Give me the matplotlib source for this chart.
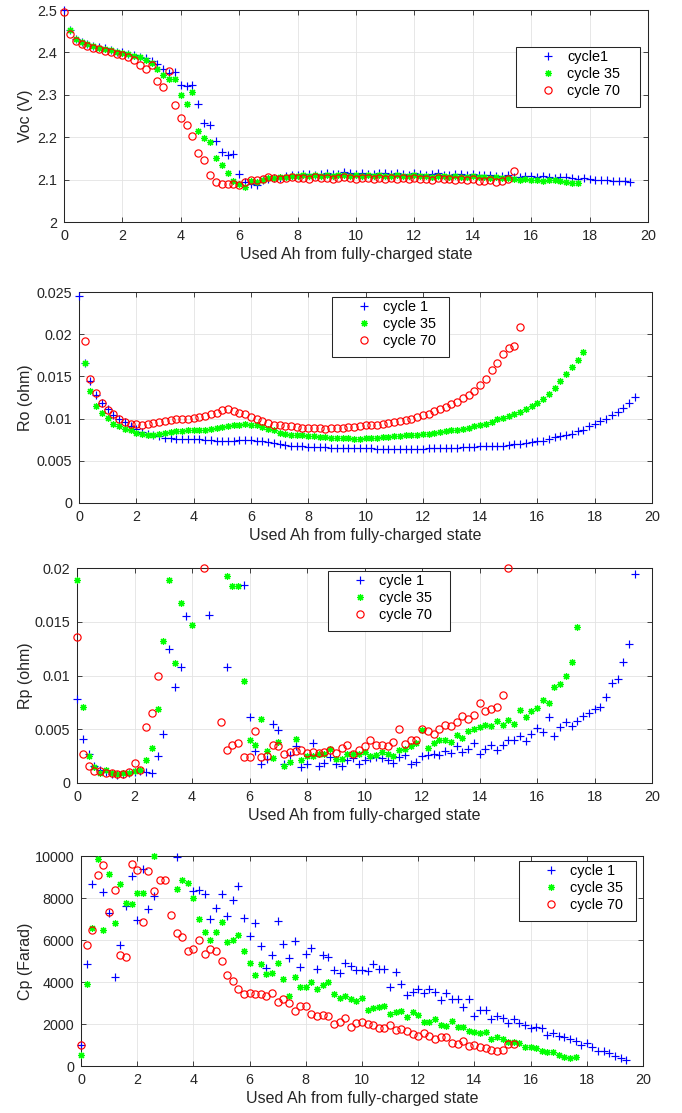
import numpy as np
import matplotlib
matplotlib.use('Agg')
import matplotlib.pyplot as plt
from matplotlib.patches import Rectangle

plt.rcParams['font.family'] = ['Liberation Sans', 'DejaVu Sans']

nan = np.nan
W, H = 682, 1113
DARK = (0.15, 0.15, 0.15)

# used Ah at each pulse, per cycle
x_c1 = [0.0, 0.2, 0.4, 0.6, 0.8, 1.0, 1.2, 1.4, 1.6, 1.8,
        2.0, 2.2, 2.4, 2.6, 2.8, 3.0, 3.2, 3.4, 3.6, 3.8,
        4.0, 4.2, 4.4, 4.6, 4.8, 5.0, 5.2, 5.4, 5.6, 5.8,
        6.0, 6.2, 6.4, 6.6, 6.8, 7.0, 7.2, 7.4, 7.6, 7.8,
        8.0, 8.2, 8.4, 8.6, 8.8, 9.0, 9.2, 9.4, 9.6, 9.8,
        10.0, 10.2, 10.4, 10.6, 10.8, 11.0, 11.2, 11.4, 11.6, 11.8,
        12.0, 12.2, 12.4, 12.6, 12.8, 13.0, 13.2, 13.4, 13.6, 13.8,
        14.0, 14.2, 14.4, 14.6, 14.8, 15.0, 15.2, 15.4, 15.6, 15.8,
        16.0, 16.2, 16.4, 16.6, 16.8, 17.0, 17.2, 17.4, 17.6, 17.8,
        18.0, 18.2, 18.4, 18.6, 18.8, 19.0, 19.2, 19.4]
x_c35 = [0.0, 0.2, 0.4, 0.6, 0.8, 1.0, 1.2, 1.4, 1.6, 1.8,
         2.0, 2.2, 2.4, 2.6, 2.8, 3.0, 3.2, 3.4, 3.6, 3.8,
         4.0, 4.2, 4.4, 4.6, 4.8, 5.0, 5.2, 5.4, 5.6, 5.8,
         6.0, 6.2, 6.4, 6.6, 6.8, 7.0, 7.2, 7.4, 7.6, 7.8,
         8.0, 8.2, 8.4, 8.6, 8.8, 9.0, 9.2, 9.4, 9.6, 9.8,
         10.0, 10.2, 10.4, 10.6, 10.8, 11.0, 11.2, 11.4, 11.6, 11.8,
         12.0, 12.2, 12.4, 12.6, 12.8, 13.0, 13.2, 13.4, 13.6, 13.8,
         14.0, 14.2, 14.4, 14.6, 14.8, 15.0, 15.2, 15.4, 15.6, 15.8,
         16.0, 16.2, 16.4, 16.6, 16.8, 17.0, 17.2, 17.4, 17.6]
x_c70 = [0.0, 0.2, 0.4, 0.6, 0.8, 1.0, 1.2, 1.4, 1.6, 1.8,
         2.0, 2.2, 2.4, 2.6, 2.8, 3.0, 3.2, 3.4, 3.6, 3.8,
         4.0, 4.2, 4.4, 4.6, 4.8, 5.0, 5.2, 5.4, 5.6, 5.8,
         6.0, 6.2, 6.4, 6.6, 6.8, 7.0, 7.2, 7.4, 7.6, 7.8,
         8.0, 8.2, 8.4, 8.6, 8.8, 9.0, 9.2, 9.4, 9.6, 9.8,
         10.0, 10.2, 10.4, 10.6, 10.8, 11.0, 11.2, 11.4, 11.6, 11.8,
         12.0, 12.2, 12.4, 12.6, 12.8, 13.0, 13.2, 13.4, 13.6, 13.8,
         14.0, 14.2, 14.4, 14.6, 14.8, 15.0, 15.2, 15.4]

# open circuit voltage (V)
voc_c1 = [2.500, 2.452, 2.432, 2.425, 2.420, 2.415, 2.412, 2.410, 2.405, 2.402,
          2.400, 2.397, 2.394, 2.390, 2.386, 2.380, 2.372, 2.362, 2.352, 2.354,
          2.322, 2.321, 2.322, 2.278, 2.233, 2.228, 2.192, 2.165, 2.157, 2.161,
          2.113, 2.095, 2.090, 2.088, 2.098, 2.102, 2.104, 2.104, 2.108, 2.110,
          2.110, 2.113, 2.114, 2.112, 2.113, 2.115, 2.114, 2.113, 2.117, 2.115,
          2.114, 2.116, 2.114, 2.113, 2.116, 2.115, 2.113, 2.116, 2.114, 2.112,
          2.115, 2.113, 2.112, 2.114, 2.115, 2.112, 2.110, 2.114, 2.113, 2.111,
          2.113, 2.112, 2.110, 2.112, 2.109, 2.108, 2.110, 2.106, 2.107, 2.108,
          2.109, 2.106, 2.108, 2.106, 2.104, 2.105, 2.106, 2.103, 2.102, 2.104,
          2.101, 2.099, 2.100, 2.099, 2.097, 2.096, 2.097, 2.094]
voc_c35 = [nan, 2.454, 2.432, 2.425, 2.419, 2.414, 2.411, 2.408, 2.405, 2.402,
           2.399, 2.396, 2.392, 2.388, 2.382, 2.376, 2.362, 2.346, 2.337, 2.337,
           2.300, 2.278, 2.306, 2.215, 2.197, 2.189, 2.152, 2.135, 2.115, 2.096,
           2.090, 2.083, 2.097, 2.095, 2.100, 2.104, 2.103, 2.105, 2.107, 2.108,
           2.108, 2.110, 2.109, 2.111, 2.108, 2.110, 2.109, 2.111, 2.110, 2.108,
           2.110, 2.109, 2.111, 2.108, 2.110, 2.109, 2.108, 2.110, 2.109, 2.108,
           2.110, 2.108, 2.109, 2.107, 2.109, 2.108, 2.106, 2.108, 2.107, 2.106,
           2.108, 2.105, 2.106, 2.104, 2.106, 2.103, 2.104, 2.102, 2.100, 2.101,
           2.099, 2.100, 2.097, 2.099, 2.098, 2.096, 2.094, 2.092, 2.091]
voc_c70 = [2.495, 2.443, 2.428, 2.420, 2.416, 2.411, 2.407, 2.404, 2.401, 2.397,
           2.394, 2.388, 2.381, 2.371, 2.361, 2.370, 2.333, 2.318, 2.357, 2.275,
           2.245, 2.228, 2.202, 2.163, 2.146, 2.112, 2.094, 2.089, 2.090, 2.089,
           2.087, 2.094, 2.099, 2.098, 2.101, 2.105, 2.103, 2.102, 2.104, 2.105,
           2.103, 2.104, 2.102, 2.105, 2.103, 2.104, 2.102, 2.104, 2.105, 2.103,
           2.102, 2.104, 2.103, 2.101, 2.104, 2.102, 2.103, 2.101, 2.104, 2.102,
           2.103, 2.101, 2.102, 2.100, 2.103, 2.101, 2.102, 2.100, 2.101, 2.099,
           2.101, 2.097, 2.096, 2.098, 2.095, 2.097, 2.101, 2.121]

# ohmic resistance (ohm)
ro_c1 = [0.0245, 0.0166, 0.0145, 0.0128, 0.0118, 0.0111, 0.0104, 0.0100, 0.0096, 0.0091,
         0.0088, 0.0084, 0.0082, 0.0080, 0.0079, 0.0077, 0.0077, 0.0076, 0.0076, 0.0076,
         0.0076, 0.0076, 0.0075, 0.0075, 0.0074, 0.0074, 0.0074, 0.0074, 0.0075, 0.0075,
         0.0075, 0.0074, 0.0073, 0.0072, 0.0071, 0.0070, 0.0069, 0.0068, 0.0068, 0.0067,
         0.0066, 0.0066, 0.0066, 0.0066, 0.0065, 0.0065, 0.0065, 0.0065, 0.0065, 0.0065,
         0.0065, 0.0065, 0.0064, 0.0064, 0.0064, 0.0064, 0.0064, 0.0064, 0.0064, 0.0064,
         0.0064, 0.0065, 0.0065, 0.0065, 0.0065, 0.0065, 0.0065, 0.0066, 0.0066, 0.0066,
         0.0067, 0.0067, 0.0068, 0.0068, 0.0068, 0.0069, 0.0070, 0.0070, 0.0071, 0.0072,
         0.0073, 0.0074, 0.0076, 0.0078, 0.0079, 0.0081, 0.0082, 0.0085, 0.0087, 0.0091,
         0.0094, 0.0097, 0.0100, 0.0104, 0.0108, 0.0113, 0.0119, 0.0126]
ro_c35 = [nan, 0.0166, 0.0133, 0.0115, 0.0107, 0.0101, 0.0094, 0.0091, 0.0088, 0.0086,
          0.0083, 0.0082, 0.0081, 0.0081, 0.0082, 0.0083, 0.0084, 0.0085, 0.0085, 0.0086,
          0.0086, 0.0087, 0.0087, 0.0088, 0.0089, 0.0090, 0.0091, 0.0092, 0.0093, 0.0094,
          0.0093, 0.0092, 0.0090, 0.0088, 0.0086, 0.0083, 0.0082, 0.0081, 0.0080, 0.0080,
          0.0079, 0.0079, 0.0078, 0.0078, 0.0077, 0.0077, 0.0077, 0.0077, 0.0076, 0.0076,
          0.0077, 0.0077, 0.0077, 0.0078, 0.0078, 0.0079, 0.0079, 0.0080, 0.0080, 0.0081,
          0.0082, 0.0082, 0.0083, 0.0084, 0.0085, 0.0086, 0.0087, 0.0088, 0.0089, 0.0091,
          0.0093, 0.0094, 0.0096, 0.0099, 0.0101, 0.0103, 0.0106, 0.0108, 0.0111, 0.0115,
          0.0119, 0.0123, 0.0129, 0.0136, 0.0144, 0.0153, 0.0161, 0.0169, 0.0179]
ro_c70 = [nan, 0.0192, 0.0147, 0.0130, 0.0118, 0.0110, 0.0105, 0.0100, 0.0096, 0.0094,
          0.0094, 0.0092, 0.0094, 0.0095, 0.0096, 0.0097, 0.0098, 0.0099, 0.0099, 0.0100,
          0.0101, 0.0102, 0.0103, 0.0105, 0.0107, 0.0110, 0.0111, 0.0109, 0.0107, 0.0105,
          0.0102, 0.0099, 0.0097, 0.0095, 0.0093, 0.0092, 0.0091, 0.0091, 0.0090, 0.0089,
          0.0089, 0.0089, 0.0089, 0.0088, 0.0089, 0.0089, 0.0089, 0.0090, 0.0090, 0.0091,
          0.0092, 0.0093, 0.0093, 0.0094, 0.0095, 0.0096, 0.0097, 0.0098, 0.0100, 0.0102,
          0.0104, 0.0106, 0.0109, 0.0111, 0.0114, 0.0117, 0.0120, 0.0124, 0.0128, 0.0133,
          0.0140, 0.0147, 0.0157, 0.0166, 0.0177, 0.0184, 0.0186, 0.0208]

# polarisation resistance (ohm); nan = off the top of the axis
rp_c1 = [0.0078, 0.0041, 0.0027, 0.0016, 0.0012, 0.0010, 0.0008, 0.0007, 0.0008, 0.0009,
         0.0010, 0.0011, 0.0010, 0.0009, 0.0025, 0.0046, 0.0125, 0.0089, 0.0108, 0.0155,
         nan, nan, nan, 0.0156, nan, nan, 0.0108, nan, nan, 0.0184,
         0.0061, 0.0030, 0.0018, 0.0022, 0.0055, 0.0049, 0.0018, 0.0026, 0.0034, 0.0015,
         0.0018, 0.0037, 0.0016, 0.0019, 0.0024, 0.0018, 0.0016, 0.0021, 0.0023, 0.0018,
         0.0021, 0.0023, 0.0024, 0.0023, 0.0021, 0.0019, 0.0024, 0.0026, 0.0018, 0.0020,
         0.0025, 0.0026, 0.0027, 0.0026, 0.0030, 0.0028, 0.0034, 0.0029, 0.0032, 0.0037,
         0.0027, 0.0032, 0.0035, 0.0031, 0.0035, 0.0040, 0.0040, 0.0044, 0.0039, 0.0046,
         0.0051, 0.0047, 0.0061, 0.0044, 0.0052, 0.0057, 0.0053, 0.0058, 0.0062, 0.0065,
         0.0069, 0.0071, 0.0080, 0.0093, 0.0097, 0.0113, 0.0129, 0.0194]
rp_c35 = [0.0189, 0.0071, 0.0025, 0.0015, 0.0009, 0.0012, 0.0009, 0.0008, 0.0009, 0.0009,
          0.0011, 0.0012, 0.0021, 0.0033, 0.0069, 0.0132, 0.0189, 0.0112, 0.0167, nan,
          0.0147, nan, nan, nan, nan, nan, 0.0193, 0.0183, 0.0183, 0.0095,
          0.0040, 0.0035, 0.0060, 0.0030, 0.0023, 0.0038, 0.0016, 0.0020, 0.0041, 0.0021,
          0.0025, 0.0025, 0.0027, 0.0027, 0.0032, 0.0022, 0.0022, 0.0027, 0.0027, 0.0027,
          0.0029, 0.0025, 0.0026, 0.0029, 0.0027, 0.0025, 0.0031, 0.0032, 0.0034, 0.0037,
          0.0049, 0.0033, 0.0037, 0.0040, 0.0040, 0.0038, 0.0045, 0.0042, 0.0048, 0.0050,
          0.0052, 0.0054, 0.0053, 0.0058, 0.0054, 0.0059, 0.0055, 0.0068, 0.0061, 0.0067,
          0.0070, 0.0077, 0.0074, 0.0089, 0.0092, 0.0100, 0.0113, 0.0145, nan]
rp_c70 = [0.0136, 0.0027, 0.0016, 0.0011, 0.0011, 0.0009, 0.0009, 0.0008, 0.0008, 0.0010,
          0.0019, 0.0012, 0.0052, 0.0065, 0.0100, nan, nan, nan, nan, nan,
          nan, nan, 0.0200, nan, nan, 0.0057, 0.0031, 0.0035, 0.0037, 0.0024,
          0.0024, 0.0048, 0.0024, 0.0025, 0.0035, 0.0034, 0.0027, 0.0029, 0.0030, 0.0031,
          0.0028, 0.0029, 0.0028, 0.0029, 0.0031, 0.0028, 0.0033, 0.0035, 0.0027, 0.0031,
          0.0034, 0.0040, 0.0035, 0.0035, 0.0034, 0.0038, 0.0050, 0.0036, 0.0040, 0.0040,
          0.0050, 0.0048, 0.0046, 0.0050, 0.0054, 0.0053, 0.0057, 0.0062, 0.0060, 0.0063,
          0.0074, 0.0067, 0.0069, 0.0071, 0.0082, 0.0200, nan, nan]

# polarisation capacitance (F); nan = off the top of the axis
cp_c1 = [1000, 4850, 8690, nan, 8290, 7290, 4250, 5780, 7620, 9030,
         6940, 9370, 7500, 8100, nan, nan, nan, 9950, nan, nan,
         8340, 8400, 8180, 7020, 7540, 8180, 7150, 7890, 8570, 7070,
         6200, 6810, 5720, 4690, 5280, 6890, 5830, 5120, 5940, 4720,
         5320, 5630, 4610, 5280, 5170, 4560, 4410, 4910, 4750, 4560,
         4560, 4530, 4850, 4600, 4640, 3740, 4480, 3900, 3380, 3530,
         3650, 3490, 3690, 3530, 3140, 3490, 3190, 3190, 2820, 3170,
         2390, 2690, 2690, 2230, 2390, 2270, 2030, 2230, 2060, 1950,
         1820, 1870, 1790, 1470, 1580, 1430, 1360, 1270, 1200, 1000,
         1110, 890, 730, 730, 600, 490, 360, 290]
cp_c35 = [520, 3900, 6590, 9840, 6470, 9130, 6810, 8680, 7780, 7730,
          8240, 8260, nan, 10000, nan, nan, nan, 8450, 8840, 8720,
          8020, 6990, 6390, 5990, 6390, 6860, 5910, 6020, 6260, 5480,
          4910, 4330, 4880, 4360, 4410, 4910, 4120, 3330, 4250, 3770,
          3740, 4010, 3660, 3850, 4010, 3420, 3260, 3330, 3170, 3090,
          3220, 2660, 2770, 2820, 2870, 2460, 2580, 2630, 2310, 2580,
          2420, 2110, 2110, 2220, 1950, 1920, 2140, 1870, 1870, 1660,
          1630, 1550, 1600, 1270, 1390, 1270, 1160, 1160, 1080, 920,
          920, 840, 730, 680, 650, 520, 410, 360, 410]
cp_c70 = [1000, 5750, 6470, 9110, 9590, 7310, 8370, 5280, 5200, 9640,
          9320, 6860, 9270, 8320, 8870, 8840, 7180, 6350, 6120, 5480,
          5590, 5990, 5320, 5560, 5480, 5010, 4330, 4040, 3660, 3450,
          3500, 3450, 3420, 3330, 3490, 3030, 3170, 2980, 2610, 2850,
          2870, 2470, 2380, 2420, 2380, 1980, 2110, 2270, 1870, 2060,
          2110, 1980, 1950, 1790, 1820, 1950, 1710, 1740, 1680, 1520,
          1440, 1580, 1440, 1270, 1360, 1390, 1110, 1050, 1190, 950,
          1000, 920, 840, 760, 730, 760, 1030, 1030]

x_ticks = [0, 2, 4, 6, 8, 10, 12, 14, 16, 18, 20]
x_label = 'Used Ah from fully-charged state'

panels = [
    dict(ys=(voc_c1, voc_c35, voc_c70), ylim=(2, 2.5),
         yticks=[2, 2.1, 2.2, 2.3, 2.4, 2.5],
         yticklabels=['2', '2.1', '2.2', '2.3', '2.4', '2.5'],
         ylabel='Voc (V)', names=['cycle1', 'cycle 35', 'cycle 70'],
         box=(64, 10, 648, 222), leg=(516, 47, 640, 107)),
    dict(ys=(ro_c1, ro_c35, ro_c70), ylim=(0, 0.025),
         yticks=[0, 0.005, 0.01, 0.015, 0.02, 0.025],
         yticklabels=['0', '0.005', '0.01', '0.015', '0.02', '0.025'],
         ylabel='Ro (ohm)', names=['cycle 1', 'cycle 35', 'cycle 70'],
         box=(79, 292, 652, 503), leg=(332, 297, 449, 357)),
    dict(ys=(rp_c1, rp_c35, rp_c70), ylim=(0, 0.02),
         yticks=[0, 0.005, 0.01, 0.015, 0.02],
         yticklabels=['0', '0.005', '0.01', '0.015', '0.02'],
         ylabel='Rp (ohm)', names=['cycle 1', 'cycle 35', 'cycle 70'],
         box=(77, 568, 652, 783), leg=(328, 571, 450, 631)),
    dict(ys=(cp_c1, cp_c35, cp_c70), ylim=(0, 10000),
         yticks=[0, 2000, 4000, 6000, 8000, 10000],
         yticklabels=['0', '2000', '4000', '6000', '8000', '10000'],
         ylabel='Cp (Farad)', names=['cycle 1', 'cycle 35', 'cycle 70'],
         box=(81, 856, 643, 1066), leg=(519, 861, 636, 921)),
]

xs = (x_c1, x_c35, x_c70)
styles = [dict(marker='+', color='#0000ff', ms=5.4),
          dict(marker=(8, 2, 0), color='#00ff00', ms=5.0),
          dict(marker='o', color='#ff0000', ms=5.2, mfc='none')]

fig = plt.figure(figsize=(W / 100, H / 100), dpi=100)

for p in panels:
    l, t, r, b = p['box']
    ax = fig.add_axes([l / W, 1 - b / H, (r - l) / W, (b - t) / H])
    handles = []
    for x, y, st, name in zip(xs, p['ys'], styles, p['names']):
        h, = ax.plot(x, y, linestyle='none', marker=st['marker'], color=st['color'],
                     mec=st['color'], mfc=st.get('mfc', st['color']), ms=st['ms'],
                     mew=0.85, clip_on=False, label=name, zorder=3)
        handles.append(h)
    ax.set_xlim(0, 20)
    ax.set_ylim(*p['ylim'])
    ax.set_xticks(x_ticks)
    ax.set_xticklabels([str(v) for v in x_ticks])
    ax.set_yticks(p['yticks'])
    ax.set_yticklabels(p['yticklabels'])
    ax.grid(True, color='#e3e3e3', linewidth=0.6)
    ax.set_axisbelow(True)
    ax.tick_params(direction='in', length=3.5, width=0.6, top=True, right=True,
                   labelsize=10.4, colors=DARK, pad=5)
    for s in ax.spines.values():
        s.set_color(DARK)
        s.set_linewidth(0.75)
    ax.set_xlabel(x_label, fontsize=11.5, color=DARK, labelpad=3)
    ax.set_ylabel(p['ylabel'], fontsize=11.5, color=DARK)
    ax.yaxis.set_label_coords((33 - l) / (r - l), 0.5)

    ll, lt, lr, lb = p['leg']
    ax.add_patch(Rectangle((ll / W, 1 - lb / H), (lr - ll) / W, (lb - lt) / H,
                           transform=fig.transFigure, facecolor='white',
                           edgecolor=DARK, linewidth=0.75, clip_on=False, zorder=4.9))
    leg = ax.legend(handles=handles, loc='upper left',
                    bbox_to_anchor=((ll + 25) / W, 1 - (lt + 3) / H),
                    bbox_transform=fig.transFigure, borderaxespad=0, borderpad=0,
                    frameon=False, handlelength=1.0, handletextpad=0.8,
                    labelspacing=0.2, fontsize=10.4, numpoints=1)
    leg.set_zorder(5)
    for txt in leg.get_texts():
        txt.set_color('black')

fig.savefig('out.png', dpi=100)
